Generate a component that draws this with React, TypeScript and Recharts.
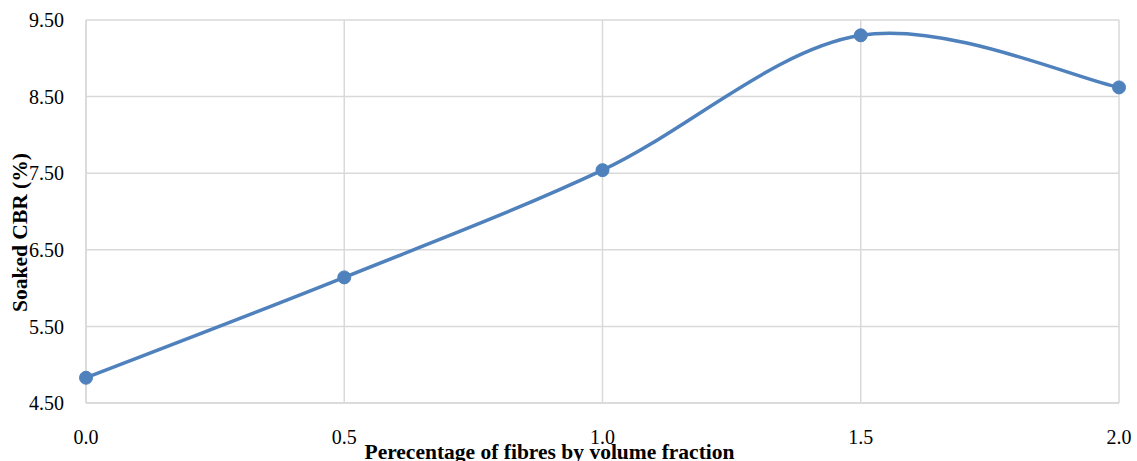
import { LineChart, Line, XAxis, YAxis, CartesianGrid } from 'recharts';

const fibre = [0, 0.5, 1.0, 1.5, 2.0];
const cbr = [4.83, 6.14, 7.54, 9.30, 8.62];
const xTicks = [0, 0.5, 1.0, 1.5, 2.0];
const yTicks = [4.5, 5.5, 6.5, 7.5, 8.5, 9.5];

const data = fibre.map((f, i) => ({ fibre: f, cbr: cbr[i] }));

const FONT = '"Liberation Serif", "Times New Roman", serif';
const BLUE = '#4f81bd';
const GRID = '#d9d9d9';

// Excel-style smoothed line (Catmull-Rom through the points)
function smoothCurve(context: any) {
  let pts: number[][] = [];
  return {
    areaStart() {},
    areaEnd() {},
    lineStart() { pts = []; },
    lineEnd() {
      const n = pts.length;
      if (!n) return;
      context.moveTo(pts[0][0], pts[0][1]);
      for (let i = 0; i < n - 1; i++) {
        const p0 = pts[i - 1] || pts[i];
        const p1 = pts[i];
        const p2 = pts[i + 1];
        const p3 = pts[i + 2] || pts[i + 1];
        context.bezierCurveTo(
          p1[0] + (p2[0] - p0[0]) / 6, p1[1] + (p2[1] - p0[1]) / 6,
          p2[0] - (p3[0] - p1[0]) / 6, p2[1] - (p3[1] - p1[1]) / 6,
          p2[0], p2[1],
        );
      }
    },
    point(x: number, y: number) { pts.push([+x, +y]); },
  };
}

const YLabel = (props: any) => {
  const vb = props.viewBox;
  const cx = vb.x + 20;
  const cy = vb.y + vb.height / 2 + 21;
  return (
    <text
      x={cx}
      y={cy}
      transform={`rotate(-90, ${cx}, ${cy})`}
      textAnchor="middle"
      dominantBaseline="central"
      fontFamily={FONT}
      fontWeight="bold"
      fontSize={21.5}
      fill="#000"
    >
      Soaked CBR (%)
    </text>
  );
};

export default function App() {
  return (
    <div style={{ position: 'absolute', left: 0, top: 0, width: 1137, height: 461, background: '#fff' }}>
      <LineChart width={1137} height={461} data={data} margin={{ top: 20, right: 18, left: 0, bottom: 0 }}>
        <CartesianGrid stroke={GRID} strokeWidth={1.5} />
        <XAxis
          dataKey="fibre"
          type="number"
          domain={[0, 2]}
          ticks={xTicks}
          tickFormatter={(v: number) => v.toFixed(1)}
          height={58}
          tickLine={false}
          tickSize={0}
          tickMargin={27}
          axisLine={{ stroke: GRID, strokeWidth: 1.5 }}
          tick={{ fill: '#000', fontSize: 20, fontFamily: FONT }}
          label={{
            value: 'Perecentage of fibres by volume fraction',
            position: 'insideBottom',
            offset: 2,
            dx: -53,
            fill: '#000',
            fontSize: 21.5,
            fontWeight: 'bold',
            fontFamily: FONT,
          }}
        />
        <YAxis
          type="number"
          domain={[4.5, 9.5]}
          ticks={yTicks}
          tickFormatter={(v: number) => v.toFixed(2)}
          width={86}
          tickLine={false}
          tickSize={0}
          tickMargin={22}
          axisLine={{ stroke: GRID, strokeWidth: 1.5 }}
          tick={{ fill: '#000', fontSize: 20, fontFamily: FONT }}
          label={{ content: YLabel }}
        />
        <Line
          dataKey="cbr"
          type={smoothCurve as any}
          stroke={BLUE}
          strokeWidth={3.5}
          dot={{ r: 6.5, fill: BLUE, stroke: BLUE, strokeWidth: 1 }}
          isAnimationActive={false}
        />
      </LineChart>
    </div>
  );
}
